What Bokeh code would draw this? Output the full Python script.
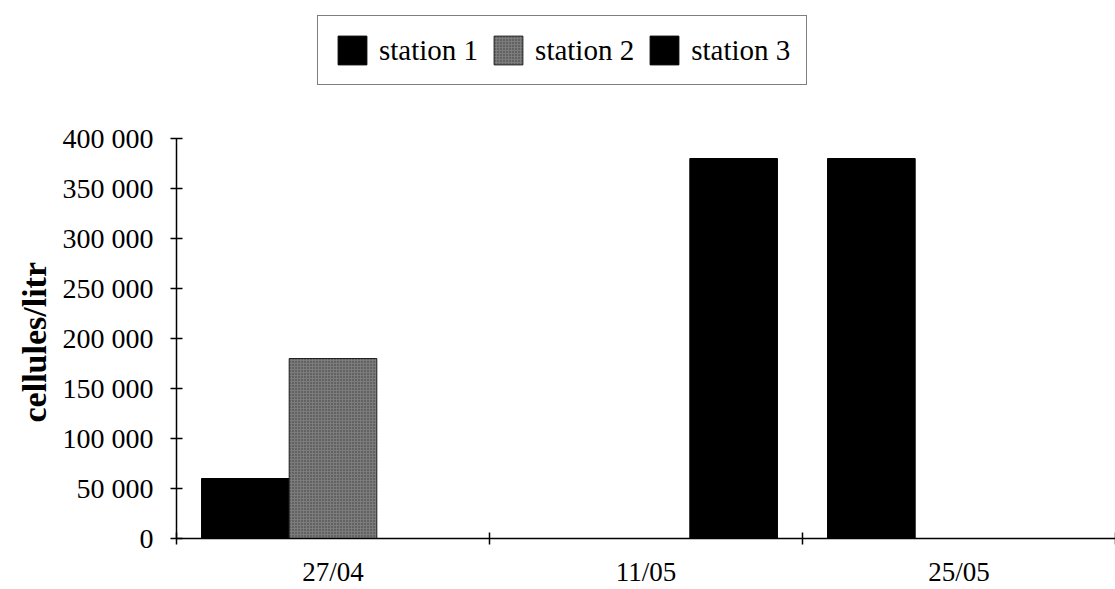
from bokeh.plotting import figure
from bokeh.models import Range1d, FixedTicker, Legend, LegendItem, ColumnDataSource, Title
from bokeh.embed import file_html
from bokeh.resources import INLINE

# ---- data ----
dates = ["27/04", "11/05", "25/05"]
station1 = [60000, 0, 380000]
station2 = [180000, 0, 0]
station3 = [0, 380000, 0]
series_names = ["station 1", "station 2", "station 3"]
y_ticks = [0, 50000, 100000, 150000, 200000, 250000, 300000, 350000, 400000]
y_max = 400000
y_title = "cellules/litr"

FONT = "Liberation Serif"

# frame spans the whole height above the x axis; the axis itself is bounded to 0..400000
p = figure(width=1115, height=589, output_backend="svg", toolbar_location=None,
           x_range=Range1d(0, len(dates)), y_range=Range1d(0, y_max * 538 / 400),
           min_border_left=176, min_border_right=0, min_border_top=0,
           min_border_bottom=51)
p.outline_line_color = None
p.xgrid.visible = False
p.ygrid.visible = False
p.background_fill_color = "white"
p.border_fill_color = "white"

bar_w = 0.28
offsets = [-bar_w, 0.0, bar_w]
series = [station1, station2, station3]
renderers = []
for k, vals in enumerate(series):
    xs = [i + 0.5 + offsets[k] for i in range(len(dates))]
    src = ColumnDataSource(dict(x=xs, top=vals))
    if k == 1:
        r = p.vbar(x="x", top="top", width=bar_w, source=src,
                   fill_color="#7c7c7c", line_color="#222222", line_width=1,
                   hatch_pattern="dot", hatch_color="#3a3a3a", hatch_scale=3,
                   hatch_weight=1)
    else:
        r = p.vbar(x="x", top="top", width=bar_w, source=src,
                   fill_color="black", line_color="black", line_width=1)
    renderers.append(r)

# y axis
yax = p.yaxis[0]
yax.bounds = (0, y_max)
yax.ticker = FixedTicker(ticks=y_ticks)
yax.major_label_overrides = {v: f"{v:,}".replace(",", " ") for v in y_ticks}
yax.minor_tick_line_color = None
yax.major_tick_in = 6
yax.major_tick_out = 6
yax.axis_line_color = "black"
yax.axis_line_width = 1.5
yax.major_tick_line_width = 1.5
yax.major_label_text_font = FONT
yax.major_label_text_font_size = "28px"
yax.major_label_text_color = "black"
yax.major_label_standoff = 17

# y title, placed along the bounded part of the axis
t = Title(text=y_title, align="left", offset=116, standoff=10,
          vertical_align="top",
          text_font=FONT, text_font_style="bold", text_font_size="34px",
          text_color="black")
p.add_layout(t, "left")

# x axis
xax = p.xaxis[0]
xax.ticker = FixedTicker(ticks=[i + 0.5 for i in range(len(dates))],
                         minor_ticks=list(range(len(dates) + 1)))
xax.major_label_overrides = {i + 0.5: d for i, d in enumerate(dates)}
xax.major_tick_line_color = None
xax.major_tick_in = 0
xax.major_tick_out = 6
xax.minor_tick_in = 6
xax.minor_tick_out = 6
xax.minor_tick_line_color = "black"
xax.minor_tick_line_width = 1.5
xax.axis_line_color = "black"
xax.axis_line_width = 1.5
xax.major_label_text_font = FONT
xax.major_label_text_font_size = "27px"
xax.major_label_text_color = "black"
xax.major_label_standoff = 12

legend = Legend(items=[LegendItem(label=n, renderers=[r]) for n, r in zip(series_names, renderers)],
                orientation="horizontal", location=(141, 453), margin=0,
                padding=16, spacing=12, label_standoff=9,
                glyph_width=36, glyph_height=36,
                label_text_font=FONT, label_text_font_size="29px",
                label_text_color="black",
                border_line_color="black", border_line_width=1.5,
                background_fill_color="white", background_fill_alpha=1)
p.add_layout(legend, "center")

open("out.html", "w").write(file_html(p, INLINE))
